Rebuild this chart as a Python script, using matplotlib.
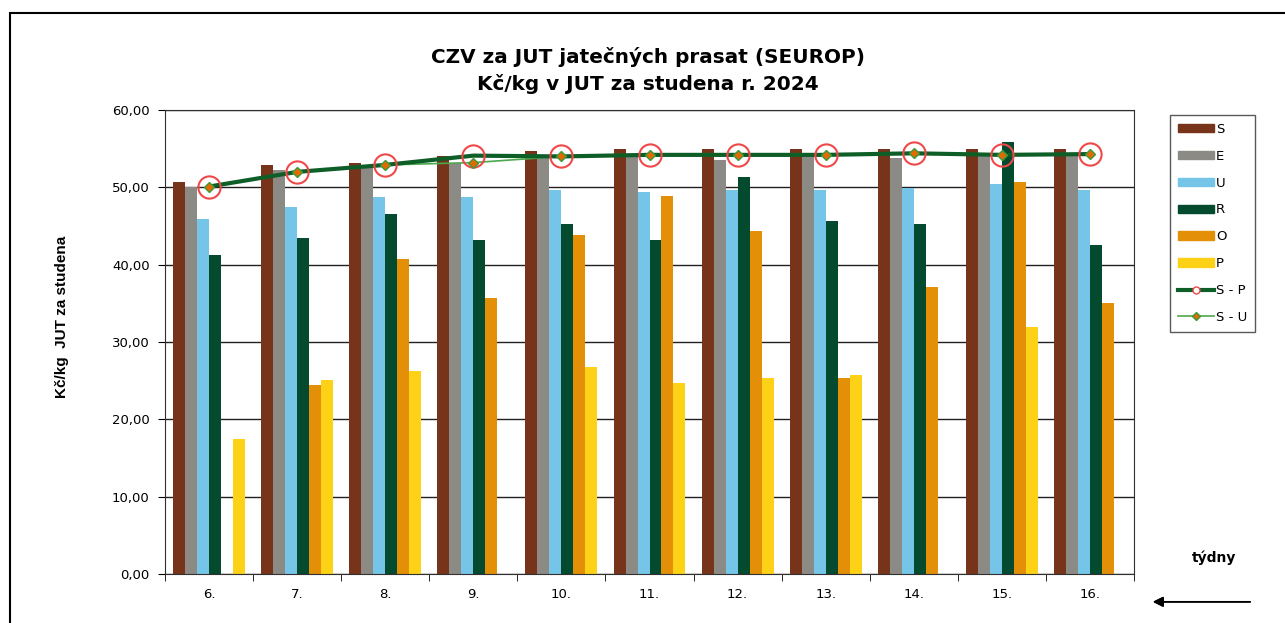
import matplotlib.pyplot as plt
import numpy as np
from matplotlib.lines import Line2D
from matplotlib.patches import Patch, Rectangle

# týdny a ceny (Kč/kg v JUT za studena)
tydny = ['6.', '7.', '8.', '9.', '10.', '11.', '12.', '13.', '14.', '15.', '16.']
S = [50.7, 52.9, 53.2, 54.0, 54.7, 54.9, 54.9, 54.9, 54.9, 54.9, 54.9]
E = [50.0, 52.3, 52.9, 53.2, 54.0, 54.0, 53.6, 54.1, 53.8, 54.2, 54.2]
U = [45.9, 47.5, 48.8, 48.8, 49.6, 49.4, 49.7, 49.6, 49.9, 50.4, 49.7]
R = [41.3, 43.4, 46.5, 43.2, 45.3, 43.2, 51.3, 45.7, 45.2, 55.8, 42.6]
O = [np.nan, 24.5, 40.7, 35.7, 43.8, 48.9, 44.4, 25.3, 37.1, 50.7, 35.1]
P = [17.5, 25.1, 26.3, np.nan, 26.8, 24.7, 25.3, 25.7, np.nan, 31.9, np.nan]
S_P = [50.1, 52.0, 52.9, 54.1, 54.0, 54.2, 54.2, 54.2, 54.4, 54.2, 54.3]
S_U = [50.1, 52.0, 52.9, 53.2, 54.0, 54.2, 54.2, 54.2, 54.4, 54.2, 54.3]

serie = [('S', S, '#78341A'), ('E', E, '#8C8A84'), ('U', U, '#74C5E8'),
         ('R', R, '#044A2E'), ('O', O, '#E38F07'), ('P', P, '#FCD116')]

fig = plt.figure(figsize=(12.85, 6.23), dpi=100)
ax = fig.add_axes([0.1284, 0.0787, 0.7541, 0.7447])

x = np.arange(len(tydny))
w = 0.136
for i, (nazev, hodnoty, barva) in enumerate(serie):
    ax.bar(x + (i - 2.5) * w, hodnoty, w, color=barva, zorder=2)

ax.plot(x, S_U, color='#4CA84C', lw=1.2, zorder=3)
ax.plot(x, S_P, color='#0E5E28', lw=3, zorder=3)
ax.plot(x, S_P, ls='none', marker='o', ms=16, mfc='none', mec='#F04848', mew=1.5, zorder=4)
ax.plot(x, S_U, ls='none', marker='D', ms=5, mfc='#E36A00', mec='#3C9A3C', mew=1, zorder=5)

ax.set_xlim(-0.5, len(tydny) - 0.5)
ax.set_ylim(0, 60)
ax.set_yticks(np.arange(0, 61, 10))
ax.set_yticklabels([f'{v:.2f}'.replace('.', ',') for v in np.arange(0, 61, 10)], fontsize=9.5)
ax.set_xticks(x)
ax.set_xticklabels(tydny, fontsize=9.5)
ax.set_xticks(np.arange(-0.5, len(tydny)), minor=True)
ax.tick_params(axis='x', which='major', length=0, pad=10)
ax.tick_params(axis='x', which='minor', length=5, direction='out')
ax.tick_params(axis='y', length=5, direction='out', pad=6)
ax.grid(axis='y', color='#202020', lw=1, zorder=1)
for s in ax.spines.values():
    s.set_color('#303030')

fig.text(62 / 1285, 1 - 317 / 623, 'Kč/kg  JUT za studena', rotation=90, ha='center', va='center',
         fontsize=11, fontweight='bold', family='Liberation Sans')

fig.text(0.504, 0.887, 'CZV za JUT jatečných prasat (SEUROP)\nKč/kg v JUT za studena r. 2024',
         ha='center', va='center', fontsize=14.4, fontweight='bold', linespacing=1.4)

fig.text(0.945, 0.104, 'týdny', ha='center', va='center', fontsize=10, fontweight='bold')
fig.add_artist(plt.annotate('', xy=(0.895, 0.034), xytext=(0.975, 0.034), xycoords='figure fraction',
                            arrowprops=dict(arrowstyle='-|>', color='black', lw=1.2,
                                            mutation_scale=15)))

fig.add_artist(Rectangle((10 / 1285, -0.05), 1.1, 1 - 13 / 623 + 0.05, transform=fig.transFigure,
                         fill=False, ec='black', lw=1.5))

handles = [Patch(color=b) for _, _, b in serie]
handles.append(Line2D([], [], color='#0E5E28', lw=3, marker='o', ms=5, mfc='white', mec='#F04848'))
handles.append(Line2D([], [], color='#4CA84C', lw=1.2, marker='D', ms=4, mfc='#E36A00', mec='#3C9A3C'))
labels = [n for n, _, _ in serie] + ['S - P', 'S - U']
fig.legend(handles, labels, loc='upper left', bbox_to_anchor=(0.9105, 0.8154), fontsize=9.5,
           frameon=True, fancybox=False, edgecolor='#303030', handlelength=2.7, handleheight=0.6,
           handletextpad=0.2, labelspacing=1.05, borderpad=0.6, borderaxespad=0)

fig.savefig('out.png', dpi=100)
